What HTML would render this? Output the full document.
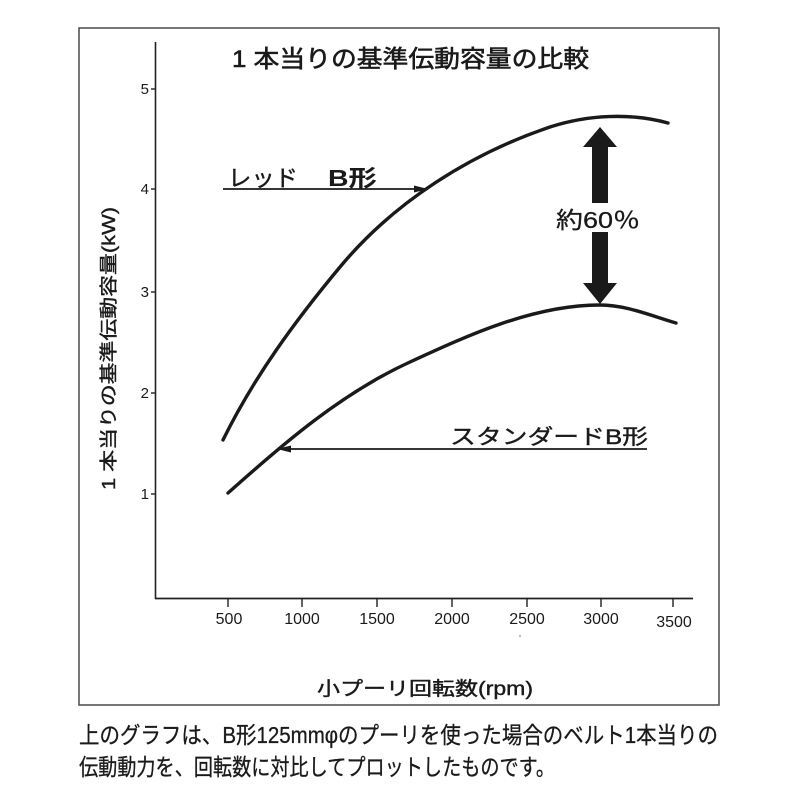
<!DOCTYPE html>
<html>
<head>
<meta charset="utf-8">
<style>
  html,body{margin:0;padding:0;background:#fff;}
  svg{display:block;}
  text{font-family:"Liberation Sans","Noto Sans CJK JP",sans-serif;fill:#1a1a1a;}
</style>
</head>
<body>
<svg width="800" height="800" viewBox="0 0 800 800" xmlns="http://www.w3.org/2000/svg">
  <rect x="0" y="0" width="800" height="800" fill="#fff"/>
  <!-- frame -->
  <rect x="79" y="28" width="640" height="677" fill="none" stroke="#555" stroke-width="1.6"/>

  <!-- title -->
  <text x="232" y="67" font-size="24" textLength="357" lengthAdjust="spacingAndGlyphs" stroke="#1a1a1a" stroke-width="0.6">1 本当りの基準伝動容量の比較</text>

  <!-- axes -->
  <line x1="155.5" y1="42" x2="155.5" y2="599" stroke="#222" stroke-width="1.6"/>
  <line x1="155" y1="598.5" x2="693" y2="598.5" stroke="#222" stroke-width="1.8"/>

  <!-- y ticks -->
  <g stroke="#222" stroke-width="1.4">
    <line x1="151" y1="89" x2="156" y2="89"/>
    <line x1="151" y1="189" x2="156" y2="189"/>
    <line x1="151" y1="292" x2="156" y2="292"/>
    <line x1="151" y1="393" x2="156" y2="393"/>
    <line x1="151" y1="494" x2="156" y2="494"/>
  </g>
  <g font-size="15" text-anchor="end">
    <text x="149" y="94">5</text>
    <text x="149" y="194">4</text>
    <text x="149" y="297">3</text>
    <text x="149" y="398">2</text>
    <text x="149" y="499">1</text>
  </g>

  <!-- x ticks -->
  <g stroke="#222" stroke-width="1.4">
    <line x1="228" y1="598" x2="228" y2="607"/>
    <line x1="302" y1="598" x2="302" y2="607"/>
    <line x1="377" y1="598" x2="377" y2="607"/>
    <line x1="452" y1="598" x2="452" y2="607"/>
    <line x1="527" y1="598" x2="527" y2="607"/>
    <line x1="601" y1="598" x2="601" y2="607"/>
    <line x1="673" y1="598" x2="673" y2="607"/>
  </g>
  <g font-size="16" text-anchor="middle">
    <text x="229" y="624">500</text>
    <text x="302" y="624">1000</text>
    <text x="377" y="624">1500</text>
    <text x="452" y="624">2000</text>
    <text x="527" y="624">2500</text>
    <text x="601" y="624">3000</text>
    <text x="674" y="627">3500</text>
  </g>
  <circle cx="520" cy="636" r="1.2" fill="#bbb"/>

  <!-- x axis title -->
  <text x="317" y="695" font-size="19" textLength="216" lengthAdjust="spacingAndGlyphs" stroke="#1a1a1a" stroke-width="0.4">小プーリ回転数(rpm)</text>

  <!-- y axis title -->
  <text transform="translate(115,490) rotate(-90)" x="0" y="0" font-size="18" textLength="283" lengthAdjust="spacingAndGlyphs" stroke="#1a1a1a" stroke-width="0.4">1 本当りの基準伝動容量(kW)</text>

  <!-- upper curve (Red B) -->
  <path d="M223,440 C254,377 295,321 340,267 C394,202 470,154 550,127 C587,115 630,112.5 668,123" fill="none" stroke="#1a1a1a" stroke-width="3.4" stroke-linecap="round"/>
  <!-- lower curve (Standard B) -->
  <path d="M228,493 C284,443 342,393 410,362 C470,334.4 534,305 600,305 C626,305 650,315.3 676,323" fill="none" stroke="#1a1a1a" stroke-width="3.4" stroke-linecap="round"/>

  <!-- Red B label -->
  <text x="228" y="186" font-size="23" textLength="70" lengthAdjust="spacingAndGlyphs" stroke="#1a1a1a" stroke-width="0.4">レッド</text>
  <text x="328" y="186" font-size="23" font-weight="bold" textLength="49" lengthAdjust="spacingAndGlyphs">B形</text>
  <line x1="223" y1="189" x2="416" y2="189" stroke="#1a1a1a" stroke-width="1.8"/>
  <polygon points="428,189 414,185.5 414,192.5" fill="#1a1a1a"/>

  <!-- Standard B label -->
  <text x="450" y="444" font-size="21" textLength="198" lengthAdjust="spacingAndGlyphs" stroke="#1a1a1a" stroke-width="0.4">スタンダードB形</text>
  <line x1="647" y1="449" x2="289" y2="449" stroke="#1a1a1a" stroke-width="1.8"/>
  <polygon points="277,449 291,445.5 291,452.5" fill="#1a1a1a"/>

  <!-- big double arrow -->
  <polygon points="600,127 617,147 608,147 608,203 592,203 592,147 583,147" fill="#1a1a1a"/>
  <polygon points="600,304 617,283 608,283 608,232 592,232 592,283 583,283" fill="#1a1a1a"/>
  <text x="556" y="228" font-size="23" textLength="84" lengthAdjust="spacingAndGlyphs" stroke="#1a1a1a" stroke-width="0.3">約60％</text>

  <!-- caption -->
  <text x="79" y="743" font-size="23" textLength="639" lengthAdjust="spacingAndGlyphs" stroke="#1a1a1a" stroke-width="0.3">上のグラフは、B形125mmφのプーリを使った場合のベルト1本当りの</text>
  <text x="79" y="775" font-size="23" textLength="476" lengthAdjust="spacingAndGlyphs" stroke="#1a1a1a" stroke-width="0.3">伝動動力を、回転数に対比してプロットしたものです。</text>
</svg>
</body>
</html>
